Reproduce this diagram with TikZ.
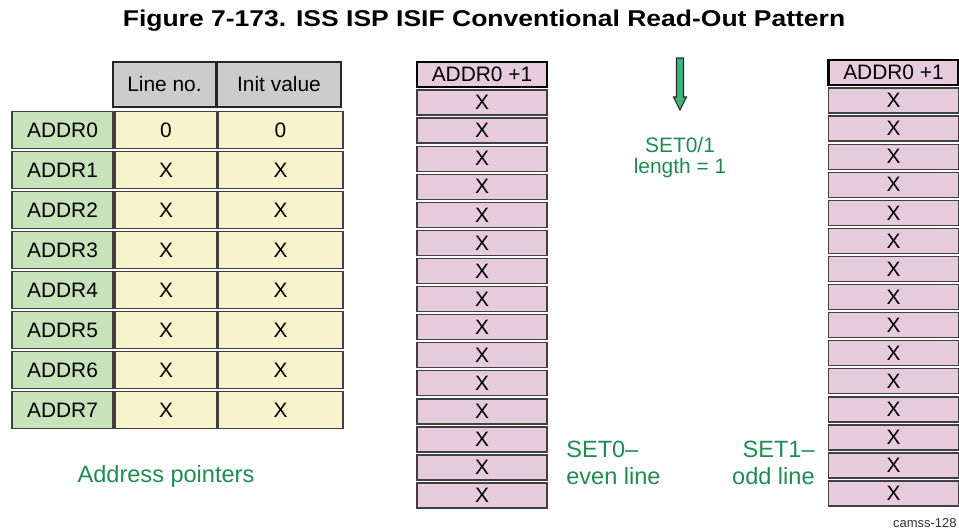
\documentclass[tikz,border=0pt]{standalone}
\usepackage{fontspec}
\setmainfont{Liberation Sans}
\usetikzlibrary{positioning}

\definecolor{addrgreen}{HTML}{C6E3BB}
\definecolor{valyellow}{HTML}{F8F3CC}
\definecolor{linepink}{HTML}{E6CCDB}
\definecolor{hdrgray}{HTML}{CCCCCC}
\definecolor{notegreen}{HTML}{1E8C50}
\definecolor{arrowgreen}{HTML}{3DB37A}

\begin{document}
\begin{tikzpicture}[
    x=0.02cm,
    y=-0.02cm,
    every node/.style={font=\fontsize{11.9}{11.9}\selectfont},
    cell/.style={draw=black!75, line width=0.8pt, inner sep=0pt, outer sep=0pt, align=center},
    addrcell/.style={cell, fill=addrgreen, minimum width=2.02cm, minimum height=0.75cm},
    valcell/.style={cell, fill=valyellow, minimum height=0.75cm},
    hdrcell/.style={cell, draw=black!85, line width=1.4pt, fill=hdrgray, minimum height=0.9cm},
    linecell/.style={cell, fill=linepink, minimum width=2.6cm, minimum height=0.5cm},
    firstcell/.style={linecell, draw=black, line width=1.4pt},
    note/.style={text=notegreen, align=center},
    bignote/.style={note, inner sep=0pt, font=\fontsize{13.4}{15.3}\selectfont},
    arrowbody/.style={draw=black!85, line width=0.6pt, fill=arrowgreen}
]
\useasboundingbox (0,0) rectangle (959,529);

\node[font=\bfseries\fontsize{13}{13}\selectfont] (title) at (484,21)
    {\scalebox{1.16}[1]{Figure 7-173. ISS ISP ISIF Conventional Read-Out Pattern}};

% address pointer table
\node[hdrcell, minimum width=2.06cm] (hdrline) at (164.5,84.5) {Line no.};
\node[hdrcell, minimum width=2.48cm] (hdrinit) at (279,84.5) {Init value};
\foreach \i/\v in {0/0,1/X,2/X,3/X,4/X,5/X,6/X,7/X} {
  \node[addrcell] (addr\i) at (62.5,{130+40*\i}) {ADDR\i};
  \node[valcell, minimum width=2.04cm] (line\i) at (166,{130+40*\i}) {\v};
  \node[valcell, minimum width=2.5cm] (init\i) at (280.5,{130+40*\i}) {\v};
}
\node[bignote] (addrnote) at (166,476) {Address pointers};

% even lines
\node[firstcell] (even0) at (482,74.5) {ADDR0 +1};
\foreach \k in {1,...,15}
  \node[linecell] (even\k) at (482,{74.5+28.07*\k}) {X};
\node[bignote, align=left, anchor=west] (evennote) at (566,462.5) {SET0--\\even line};

% odd lines
\node[firstcell] (odd0) at (893.5,72.5) {ADDR0 +1};
\foreach \k in {1,...,15}
  \node[linecell] (odd\k) at (893.5,{72.5+28.07*\k}) {X};
\node[bignote, align=right, anchor=east] (oddnote) at (815,462.5) {SET1--\\odd line};

% read direction
\draw[arrowbody] (676.5,58) -- (683.5,58) -- (683.5,97) -- (686.5,97) -- (680,110)
    -- (673.5,97) -- (676.5,97) -- cycle;
\node[note] (setnote) at (680,157.5) {SET0/1\\length = 1};

\node[font=\fontsize{7.4}{8}\selectfont, text=black!80, inner sep=0pt, anchor=east] (figid) at (957,523) {camss-128};
\end{tikzpicture}
\end{document}
